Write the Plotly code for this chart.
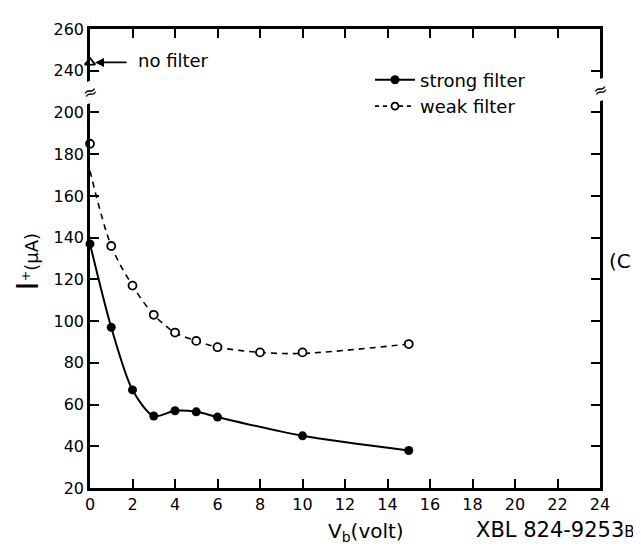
import plotly.graph_objects as go

# ---- data ----
strong_v = [0, 1, 2, 3, 4, 5, 6, 10, 15]
strong_i = [137, 97, 67, 54.5, 57, 56.5, 54, 45, 38]

weak_v = [0, 1, 2, 3, 4, 5, 6, 8, 10, 15]
weak_i = [185, 136, 117, 103, 94.5, 90.5, 87.5, 85, 85, 89]

# the dashed fitted curve (starts lower than the first weak point)
weak_curve_v = [0, 1, 2, 3, 4, 5, 6, 8, 10, 15]
weak_curve_i = [172, 136, 117, 103, 94.5, 90.5, 87.5, 85, 84.5, 89]

nofilter_v = [0]
nofilter_i = [244]

x_tick_vals = list(range(0, 25, 2))
y_tick_labels = [20, 40, 60, 80, 100, 120, 140, 160, 180, 200, 240, 260]

# broken y axis: values 200..240 are skipped (20 units removed)
BREAK_LOW, BREAK_HIGH = 200, 240
GAP = 20


def disp(v):
    return v - GAP if v >= BREAK_HIGH else v


FONT = "DejaVu Sans"
BLACK = "black"

fig = go.Figure()

fig.add_trace(go.Scatter(
    x=strong_v, y=strong_i, mode="lines+markers", name="strong filter",
    line=dict(color=BLACK, width=2, shape="spline", smoothing=0.8),
    marker=dict(symbol="circle", size=9, color=BLACK),
    cliponaxis=False, showlegend=True))

fig.add_trace(go.Scatter(
    x=weak_curve_v, y=weak_curve_i, mode="lines",
    line=dict(color=BLACK, width=1.6, dash="6px,5px", shape="spline", smoothing=0.9),
    cliponaxis=False, showlegend=False, hoverinfo="skip"))

fig.add_trace(go.Scatter(
    x=weak_v, y=weak_i, mode="markers",
    marker=dict(symbol="circle", size=8, color="white",
                line=dict(color=BLACK, width=1.8)),
    cliponaxis=False, showlegend=False))

# legend-only entry for the weak filter (dashed line + open circle)
fig.add_trace(go.Scatter(
    x=[None], y=[None], mode="lines+markers", name="weak filter",
    line=dict(color=BLACK, width=1.6, dash="4px,4px"),
    marker=dict(symbol="circle", size=7, color="white",
                line=dict(color=BLACK, width=1.8)),
    showlegend=True))

fig.add_trace(go.Scatter(
    x=nofilter_v, y=[disp(v) for v in nofilter_i], mode="markers",
    marker=dict(symbol="triangle-up-open", size=9, color=BLACK,
                line=dict(width=1.8)),
    cliponaxis=False, showlegend=False))

axis_common = dict(
    showline=True, linecolor=BLACK, linewidth=2.5, mirror="ticks",
    ticks="inside", ticklen=9, tickwidth=2, tickcolor=BLACK,
    showgrid=False, zeroline=False,
    tickfont=dict(family=FONT, size=16, color=BLACK),
)

fig.update_xaxes(range=[0, 24], tickvals=x_tick_vals,
                 ticktext=[str(v) for v in x_tick_vals], **axis_common)
fig.update_yaxes(range=[20, 240], tickvals=[disp(v) for v in y_tick_labels],
                 ticktext=[str(v) for v in y_tick_labels], **axis_common)

# plot area in page pixels: left 90, right 600, top 22, bottom 488
PL, PR, PT, PB = 90, 600, 22, 488
PW, PH = PR - PL, PB - PT


def px_x(x):
    return (x - PL) / PW


def px_y(y):
    return (PB - y) / PH


annotations = [
    # arrow to the no-filter point
    dict(x=0, y=disp(nofilter_i[0]), xref="x", yref="y", text="",
         showarrow=True, arrowhead=2, arrowsize=1, arrowwidth=1.8,
         arrowcolor=BLACK, ax=38, ay=0, standoff=5),
    dict(x=0, y=disp(nofilter_i[0]), xref="x", yref="y", text="no filter",
         showarrow=False, xanchor="left", yanchor="middle", xshift=46, yshift=2,
         font=dict(family=FONT, size=18, color=BLACK)),
    # axis-break marks
    dict(x=0, y=(BREAK_LOW + BREAK_HIGH - GAP) / 2, xref="x", yref="y", text="≈",
         showarrow=False, bgcolor="white", borderpad=0,
         font=dict(family=FONT, size=17, color=BLACK), textangle=-20),
    dict(x=24, y=(BREAK_LOW + BREAK_HIGH - GAP) / 2 + 1, xref="x", yref="y", text="≈",
         showarrow=False, bgcolor="white", borderpad=0,
         font=dict(family=FONT, size=17, color=BLACK), textangle=-20),
    # y-axis title
    dict(x=px_x(27), y=px_y(258), xref="paper", yref="paper", textangle=-90,
         xanchor="center", yanchor="middle",
         text="<span style='font-size:31px'>I</span><sup>+</sup>(μA)",
         showarrow=False, font=dict(family=FONT, size=18, color=BLACK)),
    # x-axis title
    dict(x=px_x(366), y=px_y(533), xref="paper", yref="paper", text="V<sub>b</sub>(volt)",
         xanchor="center", yanchor="middle",
         showarrow=False, font=dict(family=FONT, size=20, color=BLACK)),
    dict(x=px_x(555), y=px_y(531), xref="paper", yref="paper",
         text="XBL 824-9253<span style='font-size:15px'>B</span>",
         showarrow=False, xanchor="center", yanchor="middle",
         font=dict(family=FONT, size=21, color=BLACK)),
    dict(x=px_x(607), y=px_y(258), xref="paper", yref="paper", text="(C",
         showarrow=False, xanchor="left", yanchor="middle",
         font=dict(family=FONT, size=20, color=BLACK)),
]

# the page body adds an 8px offset; compensate so the page matches
OFF = 8
W, H = 641 - OFF, 557 - OFF

fig.update_layout(
    width=W, height=H,
    margin=dict(l=PL - OFF, r=W - (PR - OFF), t=PT - OFF, b=H - (PB - OFF)),
    paper_bgcolor="white", plot_bgcolor="white",
    showlegend=True,
    legend=dict(x=px_x(370), y=px_y(55), xanchor="left", yanchor="top",
                bgcolor="rgba(0,0,0,0)", borderwidth=0,
                font=dict(family=FONT, size=18, color=BLACK),
                itemwidth=40, tracegroupgap=0),
    annotations=annotations,
    font=dict(family=FONT, color=BLACK),
)

fig.write_html("out.html")
